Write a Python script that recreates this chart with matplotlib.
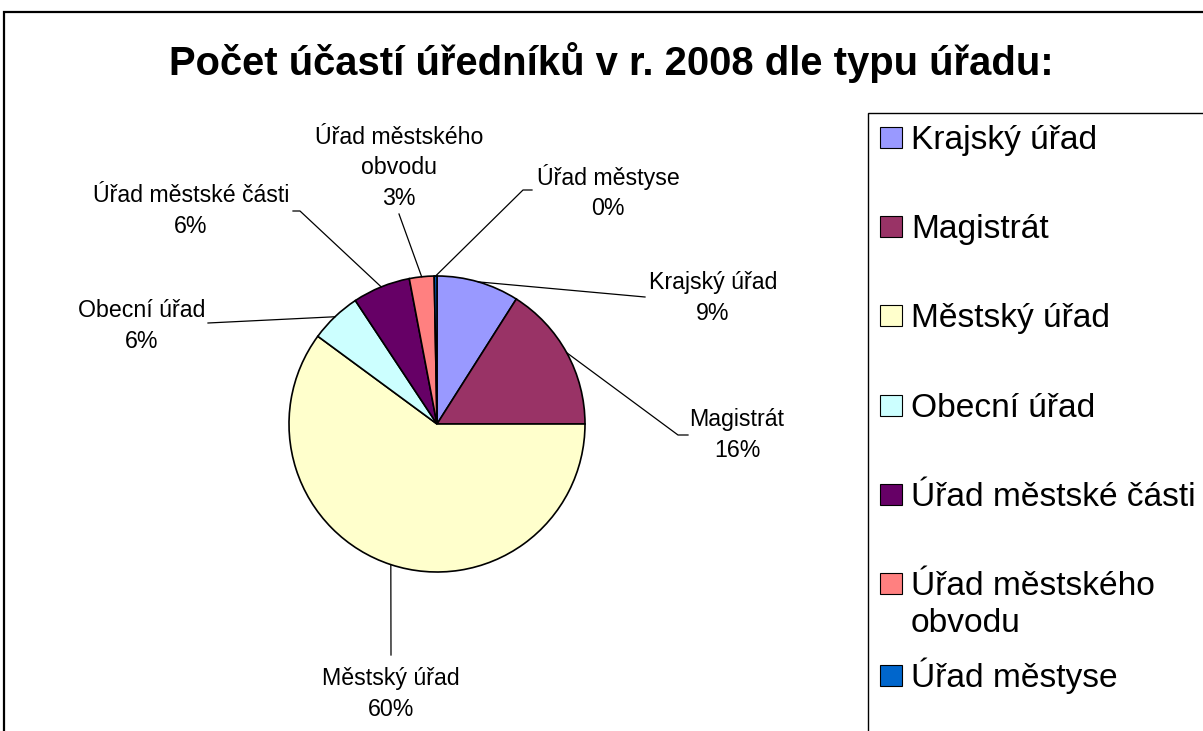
import numpy as np
import matplotlib.pyplot as plt
from matplotlib.patches import Rectangle

plt.rcParams['font.family'] = ['Liberation Sans', 'DejaVu Sans']

title = "Počet účastí úředníků v r. 2008 dle typu úřadu:"
categories = ["Krajský úřad", "Magistrát", "Městský úřad", "Obecní úřad",
              "Úřad městské části", "Úřad městského obvodu", "Úřad městyse"]
shares = [9.0, 16.0, 60.1, 5.6, 6.3, 2.7, 0.3]
colors = ["#9999FF", "#993366", "#FFFFCC", "#CCFFFF", "#660066", "#FF8080", "#0066CC"]
wrapped = {"Úřad městského obvodu": "Úřad městského\nobvodu"}

W, H = 1203, 731

# layout in pixels from the top-left corner
center = (437, 424)
radius = 148
label_centers = [(713, 298), (737, 435), (391, 694), (142, 326),
                 (191, 211), (399, 168), (608, 192)]
leader_points = [[(645, 297)],
                 [(678, 435), (688, 435)],
                 [(391, 655)],
                 [(208, 323)],
                 [(300, 211), (293, 211)],
                 [(399, 214)],
                 [(523, 190), (532, 190)]]
legend_rows = [137, 226, 315, 405, 494, 583, 675]
legend_line = 37


def up(y):
    return H - y


fig = plt.figure(figsize=(W / 100, H / 100), dpi=100)
ax = fig.add_axes([0, 0, 1, 1])

wedges, _ = ax.pie(shares, colors=colors, startangle=90, counterclock=False,
                   center=(center[0], up(center[1])), radius=radius,
                   wedgeprops=dict(edgecolor='black', linewidth=1.2))
ax.set_xlim(0, W)
ax.set_ylim(0, H)
ax.set_aspect('equal')
ax.axis('off')

total = sum(shares)
for i, w in enumerate(wedges):
    mid = np.deg2rad((w.theta1 + w.theta2) / 2)
    ex = center[0] + radius * np.cos(mid)
    ey = up(center[1]) + radius * np.sin(mid)
    xs = [ex] + [p[0] for p in leader_points[i]]
    ys = [ey] + [up(p[1]) for p in leader_points[i]]
    ax.plot(xs, ys, color='black', linewidth=0.9)
    name = wrapped.get(categories[i], categories[i])
    txt = "{}\n{:.0f}%".format(name, shares[i] / total * 100)
    lx, ly = label_centers[i]
    ax.text(lx, up(ly), txt, ha='center', va='center', fontsize=16.7,
            linespacing=1.4)

ax.text(611.5, up(75), title, ha='center', va='baseline', fontsize=28.8,
        fontweight='bold')

# outer chart border and legend box
ax.add_patch(Rectangle((4, -20), W + 20, up(12) + 20, fill=False,
                       edgecolor='black', linewidth=1.6))
ax.add_patch(Rectangle((868, -20), W, up(113) + 20, fill=False,
                       edgecolor='black', linewidth=1.0))

for i, w in enumerate(wedges):
    y = legend_rows[i]
    ax.add_patch(Rectangle((880, up(y) - 10.5), 22, 21,
                           facecolor=w.get_facecolor(), edgecolor='black',
                           linewidth=0.8))
    # each line of the entry is placed on its own baseline
    lines = wrapped.get(categories[i], categories[i]).split("\n")
    for k, line in enumerate(lines):
        ax.text(911, up(y + 12 + k * legend_line), line,
                ha='left', va='baseline', fontsize=24.1)

plt.savefig('out.png', dpi=100)
